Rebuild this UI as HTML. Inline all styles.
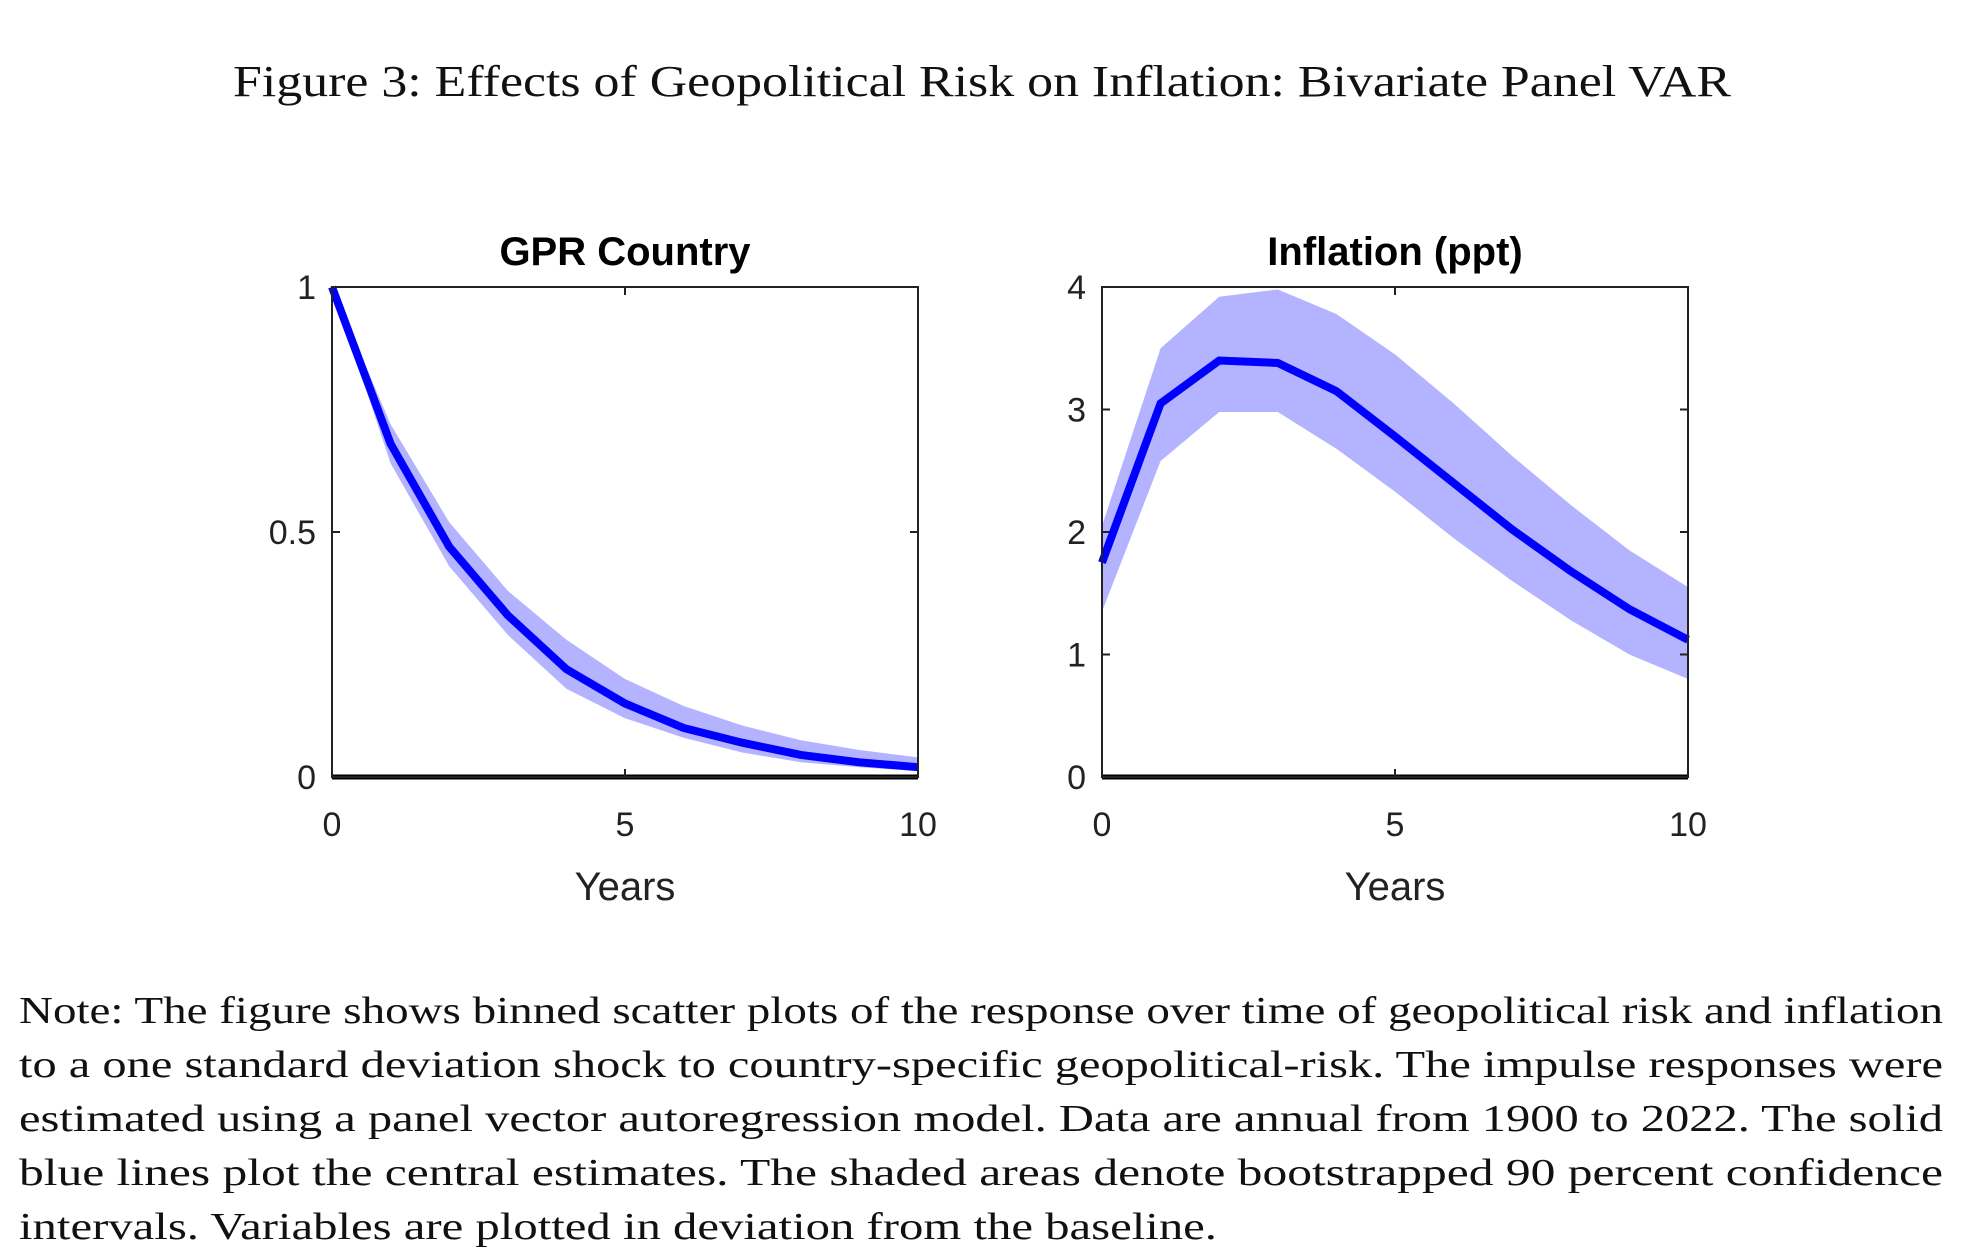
<!DOCTYPE html>
<html><head><meta charset="utf-8"><style>
body{margin:0;background:#fff;width:1968px;height:1255px;overflow:hidden;position:relative}
svg{position:absolute;left:0;top:0}
</style></head><body>
<svg id="chart" width="1968" height="1255">
<text x="233" y="96" textLength="1498" lengthAdjust="spacingAndGlyphs" font-family="Liberation Serif, serif" font-size="44" fill="#111">Figure 3: Effects of Geopolitical Risk on Inflation: Bivariate Panel VAR</text>
<g font-family="Liberation Serif, serif" font-size="38" fill="#111">
<text x="19" y="1023" textLength="1924" lengthAdjust="spacingAndGlyphs">Note: The figure shows binned scatter plots of the response over time of geopolitical risk and inflation</text>
<text x="19" y="1077" textLength="1924" lengthAdjust="spacingAndGlyphs">to a one standard deviation shock to country-specific geopolitical-risk. The impulse responses were</text>
<text x="19" y="1131" textLength="1924" lengthAdjust="spacingAndGlyphs">estimated using a panel vector autoregression model. Data are annual from 1900 to 2022. The solid</text>
<text x="19" y="1185" textLength="1924" lengthAdjust="spacingAndGlyphs">blue lines plot the central estimates. The shaded areas denote bootstrapped 90 percent confidence</text>
<text x="19" y="1239" textLength="1198" lengthAdjust="spacingAndGlyphs">intervals. Variables are plotted in deviation from the baseline.</text>
</g>
</svg>
<script>
const years=[0,1,2,3,4,5,6,7,8,9,10];
const gprMid=[1,0.68,0.47,0.33,0.22,0.15,0.10,0.07,0.045,0.03,0.02];
const gprUp=[1,0.72,0.52,0.38,0.28,0.20,0.145,0.105,0.075,0.055,0.04];
const gprLo=[1,0.64,0.43,0.29,0.18,0.12,0.08,0.05,0.03,0.02,0.012];
const infMid=[1.75,3.05,3.4,3.38,3.15,2.78,2.4,2.02,1.68,1.37,1.12];
const infUp=[2.05,3.5,3.92,3.98,3.78,3.45,3.05,2.62,2.22,1.85,1.55];
const infLo=[1.35,2.58,2.98,2.98,2.68,2.33,1.95,1.6,1.28,1.0,0.8];
const xTicks=[0,5,10];
const gprYTicks=[0,0.5,1];
const infYTicks=[0,1,2,3,4];
const NS='http://www.w3.org/2000/svg';
const svg=document.getElementById('chart');
function mk(tag,attrs,parent){const e=document.createElementNS(NS,tag);for(const k in attrs)e.setAttribute(k,attrs[k]);(parent||svg).appendChild(e);return e;}
function panel(id,x0,x1,ymax,mid,up,lo,yt,title){
  const top=287,bot=777;
  const sx=v=>x0+(v-0)/(10-0)*(x1-x0);
  const sy=v=>bot-(v/ymax)*(bot-top);
  const g=mk('g',{});
  
  
  let d='';
  years.forEach((t,i)=>{d+=(i?'L':'M')+sx(t)+','+sy(up[i]);});
  for(let i=years.length-1;i>=0;i--)d+='L'+sx(years[i])+','+sy(lo[i]);
  const band=mk('path',{d:d+'Z',fill:'#b3b3ff'},g);
  
  
  const zl=mk('line',{x1:x0,x2:x1,y1:sy(0),y2:sy(0),stroke:'#000','stroke-width':5},g);
  
  
  const pts=years.map((t,i)=>sx(t)+','+sy(mid[i])).join(' ');
  const ln=mk('polyline',{points:pts,fill:'none',stroke:'#0000ff','stroke-width':8},g);
  
  
  const fr=mk('rect',{x:x0,y:top,width:x1-x0,height:bot-top,fill:'none',stroke:'#222','stroke-width':2},g);
  
  
  xTicks.forEach(t=>{
    mk('line',{x1:sx(t),x2:sx(t),y1:bot,y2:bot-8,stroke:'#222','stroke-width':2},g);
    mk('line',{x1:sx(t),x2:sx(t),y1:top,y2:top+8,stroke:'#222','stroke-width':2},g);
    const tx=mk('text',{x:sx(t),y:836,'text-anchor':'middle','font-family':'Liberation Sans, sans-serif','font-size':34,fill:'#222'},g);
    tx.textContent=t;
    
    
  });
  yt.forEach(t=>{
    mk('line',{x1:x0,x2:x0+8,y1:sy(t),y2:sy(t),stroke:'#222','stroke-width':2},g);
    mk('line',{x1:x1,x2:x1-8,y1:sy(t),y2:sy(t),stroke:'#222','stroke-width':2},g);
    const ty=mk('text',{x:x0-16,y:sy(t)+12,'text-anchor':'end','font-family':'Liberation Sans, sans-serif','font-size':34,fill:'#222'},g);
    ty.textContent=t;
    
    
  });
  const ti=mk('text',{x:(x0+x1)/2,y:265,'text-anchor':'middle','font-family':'Liberation Sans, sans-serif','font-size':40,'font-weight':'bold',fill:'#000'},g);
  ti.textContent=title;
  
  
  const xl=mk('text',{x:(x0+x1)/2,y:900,'text-anchor':'middle','font-family':'Liberation Sans, sans-serif','font-size':40,fill:'#222'},g);
  xl.textContent='Years';
  
  
}
panel('gpr',332,918,1,gprMid,gprUp,gprLo,gprYTicks,'GPR Country');
panel('inflation',1102,1688,4,infMid,infUp,infLo,infYTicks,'Inflation (ppt)');
</script>
</body></html>
